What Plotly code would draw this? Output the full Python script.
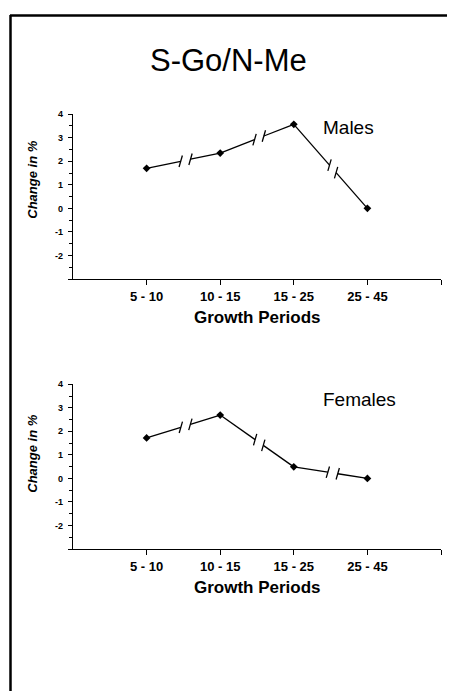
import numpy as np
import plotly.graph_objects as go

# ---------------- data ----------------
periods = ["5 - 10", "10 - 15", "15 - 25", "25 - 45"]
males = [1.7, 2.35, 3.57, 0.0]
females = [1.72, 2.69, 0.49, 0.0]
y_tickvals = [-3, -2, -1, 0, 1, 2, 3, 4]
y_ticktext = ["", "-2", "-1", "0", "1", "2", "3", "4"]
title_text = "S-Go/N-Me"
panel_labels = ["Males", "Females"]
x_title = "Growth Periods"
y_title = "Change in %"

# ---------------- layout constants ----------------
W, H = 450, 691
FONT = "Liberation Sans, Arial, Helvetica, sans-serif"
XD = [73 / W, 441 / W]
YD_TOP = [1 - 276 / H, 1 - 110 / H]
YD_BOT = [1 - 548 / H, 1 - 382 / H]
XR = [0, 5]
YR = [-3, 4]
GAP_FRAC = 0.53
GAP_PX = 10
SLASH_HALF = 6
SLASH_ANG = np.radians(74)

xs = list(range(1, len(periods) + 1))


def to_px(x, y, yd):
    px = (XD[0] + (x - XR[0]) / (XR[1] - XR[0]) * (XD[1] - XD[0])) * W
    py = (1 - (yd[0] + (y - YR[0]) / (YR[1] - YR[0]) * (yd[1] - yd[0]))) * H
    return px, py


def to_data(px, py, yd):
    x = XR[0] + (px / W - XD[0]) / (XD[1] - XD[0]) * (XR[1] - XR[0])
    y = YR[0] + ((1 - py / H) - yd[0]) / (yd[1] - yd[0]) * (YR[1] - YR[0])
    return x, y


def broken(xv, yv, yd):
    lx, ly = [], []
    for i in range(len(xv) - 1):
        ax, ay = to_px(xv[i], yv[i], yd)
        bx, by = to_px(xv[i + 1], yv[i + 1], yd)
        L = np.hypot(bx - ax, by - ay)
        ux, uy = (bx - ax) / L, (by - ay) / L
        cx, cy = ax + (bx - ax) * GAP_FRAC, ay + (by - ay) * GAP_FRAC
        e1 = (cx - ux * GAP_PX / 2, cy - uy * GAP_PX / 2)
        e2 = (cx + ux * GAP_PX / 2, cy + uy * GAP_PX / 2)
        for p, q in [((ax, ay), e1), (e2, (bx, by))]:
            for pt in (p, q):
                d = to_data(*pt, yd)
                lx.append(d[0]); ly.append(d[1])
            lx.append(None); ly.append(None)
        dx, dy = np.cos(SLASH_ANG) * SLASH_HALF, -np.sin(SLASH_ANG) * SLASH_HALF
        for e in (e1, e2):
            for pt in ((e[0] - dx, e[1] - dy), (e[0] + dx, e[1] + dy)):
                d = to_data(*pt, yd)
                lx.append(d[0]); ly.append(d[1])
            lx.append(None); ly.append(None)
    return lx, ly


fig = go.Figure()
for vals, yd, xa, ya in [(males, YD_TOP, "x", "y"), (females, YD_BOT, "x2", "y2")]:
    lx, ly = broken(xs, vals, yd)
    fig.add_trace(go.Scatter(x=lx, y=ly, mode="lines", line=dict(color="black", width=1.3),
                             xaxis=xa, yaxis=ya, showlegend=False, hoverinfo="skip"))
    fig.add_trace(go.Scatter(x=xs, y=vals, mode="markers",
                             marker=dict(symbol="diamond", size=6, color="black"),
                             xaxis=xa, yaxis=ya, showlegend=False))


def xaxis_cfg(anchor):
    return dict(domain=XD, range=XR, anchor=anchor, showline=True, linecolor="black", linewidth=1.3,
                ticks="outside", ticklen=5, tickwidth=1.2, tickcolor="black",
                tickmode="array", tickvals=xs + [XR[1]], ticktext=periods + [""],
                tickfont=dict(family=FONT, size=13, color="black", weight="bold"),
                ticklabelstandoff=0, showgrid=False, zeroline=False, fixedrange=True)


def yaxis_cfg(anchor, dom):
    return dict(domain=dom, range=YR, anchor=anchor, showline=True, linecolor="black", linewidth=1.3,
                ticks="outside", ticklen=4, tickwidth=1.1, tickcolor="black",
                tickmode="array", tickvals=y_tickvals, ticktext=y_ticktext,
                tickfont=dict(family=FONT, size=9, color="black", weight="bold"),
                ticklabelstandoff=3,
                minor=dict(tickmode="linear", tick0=-3, dtick=0.5, ticks="outside", ticklen=3,
                           tickcolor="black", tickwidth=1),
                showgrid=False, zeroline=False, fixedrange=True)


ann = [
    dict(text=title_text, x=229 / W, y=1 - 56 / H, font=dict(family=FONT, size=31, color="black")),
    dict(text=panel_labels[0], x=321 / W, y=1 - 123 / H, xanchor="left",
         font=dict(family=FONT, size=19, color="black")),
    dict(text=panel_labels[1], x=321 / W, y=1 - 397 / H, xanchor="left",
         font=dict(family=FONT, size=19, color="black")),
    dict(text=x_title, x=(XD[0] + XD[1]) / 2, y=1 - 315 / H,
         font=dict(family=FONT, size=17, color="black", weight="bold")),
    dict(text=x_title, x=(XD[0] + XD[1]) / 2, y=1 - 587 / H,
         font=dict(family=FONT, size=17, color="black", weight="bold")),
    dict(text=y_title, x=33 / W, y=1 - 176 / H, textangle=-90,
         font=dict(family=FONT, size=13, color="black", weight="bold", style="italic")),
    dict(text=y_title, x=33 / W, y=1 - 452 / H, textangle=-90,
         font=dict(family=FONT, size=13, color="black", weight="bold", style="italic")),
]
for a in ann:
    a.update(xref="paper", yref="paper", showarrow=False)
    a.setdefault("xanchor", "center")
    a.setdefault("yanchor", "middle")

fig.update_layout(
    width=W, height=H, margin=dict(l=0, r=0, t=0, b=0),
    paper_bgcolor="white", plot_bgcolor="white",
    xaxis=xaxis_cfg("y"), yaxis=yaxis_cfg("x", YD_TOP),
    xaxis2=xaxis_cfg("y2"), yaxis2=yaxis_cfg("x2", YD_BOT),
    annotations=ann,
    shapes=[
        dict(type="line", xref="paper", yref="paper", x0=10.5 / W, x1=10.5 / W, y0=0, y1=1 - 10 / H,
             line=dict(color="black", width=2.5)),
        dict(type="line", xref="paper", yref="paper", x0=10 / W, x1=447 / W, y0=1 - 10.5 / H, y1=1 - 10.5 / H,
             line=dict(color="black", width=2.5)),
    ],
)

fig.write_html("out.html")
